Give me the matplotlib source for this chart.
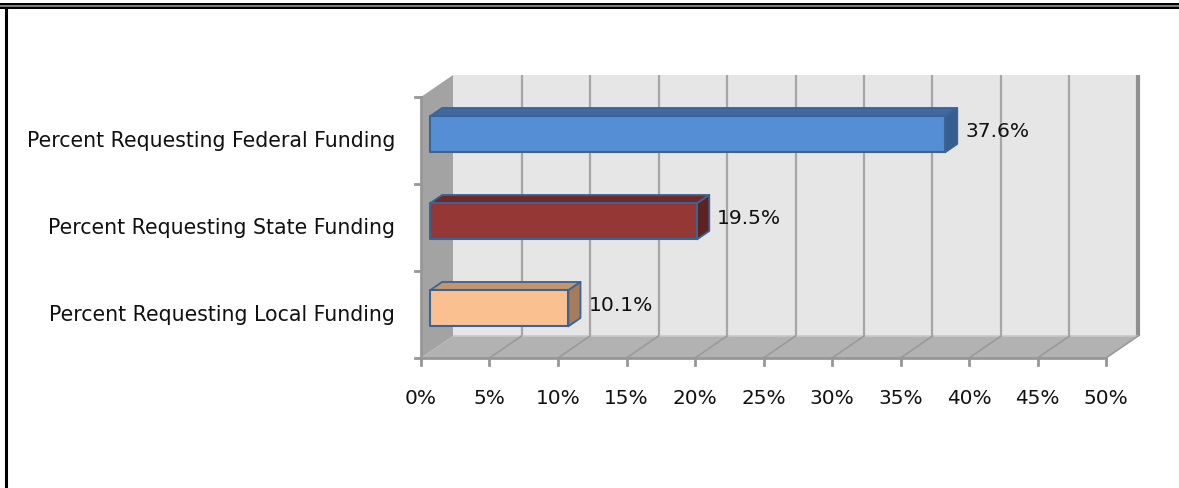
import matplotlib.pyplot as plt
from matplotlib.patches import Polygon
from matplotlib.lines import Line2D

categories = ["Percent Requesting Local Funding",
              "Percent Requesting State Funding",
              "Percent Requesting Federal Funding"]
values = [10.1, 19.5, 37.6]
value_labels = ["10.1%", "19.5%", "37.6%"]
ticks = [0, 5, 10, 15, 20, 25, 30, 35, 40, 45, 50]
tick_labels = [f"{t}%" for t in ticks]

front_colors = ["#fac090", "#953735", "#558ed5"]
top_colors = ["#c4946c", "#6e2a28", "#41699e"]
side_colors = ["#a67c5a", "#5e2220", "#365f91"]
edge = "#3a6494"

# pixel layout of the front plane
W, H = 1179, 489
X0, PX_PCT = 421, 13.7
Y_TOP, PX_CAT = 98, 87
# oblique depth offset of the back wall, in data units
DX = 32 / PX_PCT
DY = 22 / PX_CAT
XMAX = 50
Z0, Z1 = 0.28, 0.66   # bar front/back depth
HALF = 0.207          # half bar height


def P(v, c, z=0.0):
    return (v + z * DX, c + z * DY)


fig = plt.figure(figsize=(W / 100, H / 100), dpi=100)
ax = fig.add_axes([0, 0, 1, 1])
ax.set_xlim(-X0 / PX_PCT, (W - X0) / PX_PCT)
ax.set_ylim(2.5 - (H - Y_TOP) / PX_CAT, 2.5 + Y_TOP / PX_CAT)
ax.set_axis_off()

lo, hi = -0.5, len(categories) - 0.5

# back wall
ax.add_patch(Polygon([P(0, lo, 1), P(XMAX, lo, 1), P(XMAX, hi, 1), P(0, hi, 1)],
                     closed=True, fc="#e6e6e6", ec="none", zorder=1))
for t in ticks[1:]:
    lw, col = (3, "#8f8f8f") if t == XMAX else (1.6, "#a6a6a6")
    ax.plot(*zip(P(t, lo, 1), P(t, hi, 1)), color=col, lw=lw, zorder=2,
            solid_capstyle="butt")

# floor
ax.add_patch(Polygon([P(0, lo, 0), P(XMAX, lo, 0), P(XMAX, lo, 1), P(0, lo, 1)],
                     closed=True, fc="#b2b2b2", ec="none", zorder=3))
ax.plot(*zip(P(0, lo, 1), P(XMAX, lo, 1)), color="#c8c8c8", lw=1.2, zorder=4)
for t in ticks[1:]:
    ax.plot(*zip(P(t, lo, 0), P(t, lo, 1)), color="#9a9a9a", lw=1.2, zorder=4)
ax.plot(*zip(P(0, lo, 0), P(XMAX, lo, 0)), color="#979797", lw=2, zorder=4)

# left wall
ax.add_patch(Polygon([P(0, lo, 0), P(0, hi, 0), P(0, hi, 1), P(0, lo, 1)],
                     closed=True, fc="#a3a3a3", ec="none", zorder=5))
ax.plot(*zip(P(0, lo, 0), P(0, hi, 0)), color="#979797", lw=2, zorder=5)

# axis ticks
for c in [lo + i for i in range(len(categories) + 1)]:
    ax.plot([-6 / PX_PCT, 0], [c, c], color="#979797", lw=2, zorder=5)
for t in ticks:
    ax.plot([t, t], [lo, lo - 7 / PX_CAT], color="#979797", lw=2, zorder=5)

# bars
for i, v in enumerate(values):
    c = i
    top = [P(0, c + HALF, Z0), P(v, c + HALF, Z0), P(v, c + HALF, Z1), P(0, c + HALF, Z1)]
    side = [P(v, c - HALF, Z0), P(v, c + HALF, Z0), P(v, c + HALF, Z1), P(v, c - HALF, Z1)]
    front = [P(0, c - HALF, Z0), P(v, c - HALF, Z0), P(v, c + HALF, Z0), P(0, c + HALF, Z0)]
    ax.add_patch(Polygon(top, closed=True, fc=top_colors[i], ec=edge, lw=1.3,
                         joinstyle="round", zorder=6))
    ax.add_patch(Polygon(side, closed=True, fc=side_colors[i], ec=edge, lw=1.3,
                         joinstyle="round", zorder=6))
    ax.add_patch(Polygon(front, closed=True, fc=front_colors[i], ec=edge, lw=1.5,
                         joinstyle="round", zorder=7))
    lx, ly = P(v, c, Z1)
    ax.text(lx + 8 / PX_PCT, c + (Z0 + Z1) / 2 * DY, value_labels[i],
            ha="left", va="center", fontsize=14.6, color="#111111", zorder=8)

# labels
for i, name in enumerate(categories):
    ax.text(-26 / PX_PCT, i, name, ha="right", va="center", fontsize=14.8,
            color="#111111")
for t, lab in zip(ticks, tick_labels):
    ax.text(t, lo - 40 / PX_CAT, lab, ha="center", va="center", fontsize=14.4,
            color="#111111")

# outer frame
fig.add_artist(Line2D([0, 1], [1 - 5 / H, 1 - 5 / H], color="black", lw=1.45))
fig.add_artist(Line2D([0, 1], [1 - 7 / H, 1 - 7 / H], color="#808080", lw=1.45))
fig.add_artist(Line2D([0, 1], [1 - 9 / H, 1 - 9 / H], color="black", lw=1.45))
fig.add_artist(Line2D([6 / W, 6 / W], [0, 1 - 9 / H], color="black", lw=2.2))

fig.savefig("out.png", dpi=100)
